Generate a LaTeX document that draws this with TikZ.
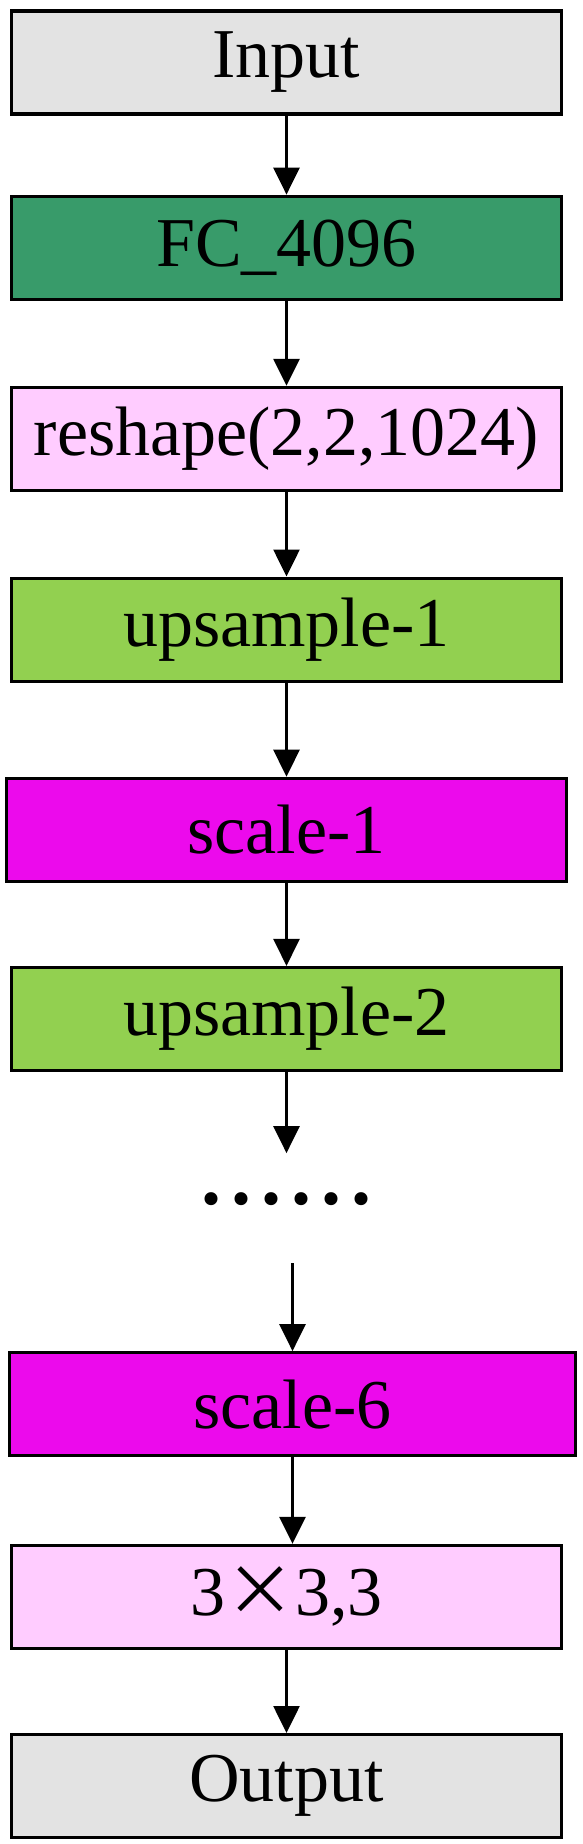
\documentclass[tikz,border=0pt]{standalone}
\usepackage{fontspec}
\setmainfont{Liberation Serif}
\newfontfamily\cjk{Noto Sans CJK SC}
\usetikzlibrary{arrows.meta,positioning}
\definecolor{iogray}{HTML}{E3E3E3}
\definecolor{fcgreen}{HTML}{389B6A}
\definecolor{shapepink}{HTML}{FFCCFF}
\definecolor{upgreen}{HTML}{92D050}
\definecolor{scalemagenta}{HTML}{EC0AEC}

\begin{document}
\begin{tikzpicture}[
  font=\fontsize{35}{40}\selectfont,
  box/.style={draw=black, line width=1.6pt, minimum width=275pt,
    minimum height=51.5pt, inner sep=0pt, align=center},
  flow/.style={-{Triangle[width=13pt,length=13.5pt]}, line width=1.3pt, draw=black},
]
  \useasboundingbox (0,0) rectangle (291.5pt,-922pt);
  \node[box, fill=iogray] (input) at (143.25pt,-31.25pt) {Input};
  \node[box, fill=fcgreen, below=39.5pt of input] (fc) {FC\_4096};
  \node[box, fill=shapepink, below=42.5pt of fc] (reshape) {reshape(2,2,1024)};
  \node[box, fill=upgreen, below=42.25pt of reshape] (upsample-1) {upsample-1};
  \node[box, fill=scalemagenta, minimum width=280pt, below=47pt of upsample-1]
    (scale-1) {scale-1};
  \node[box, fill=upgreen, below=41.5pt of scale-1] (upsample-2) {upsample-2};
  \coordinate[below=40.5pt of upsample-2] (gap-in);
  \node[inner sep=0pt, font=\fontsize{40}{44}\selectfont\bfseries,
    below=63.5pt of upsample-2, anchor=center]
    (dots) {.\hspace{5pt}.\hspace{5pt}.\hspace{5pt}.\hspace{5pt}.\hspace{5pt}.};
  \node[box, fill=scalemagenta, minimum width=283pt,
    below=139.5pt of upsample-2, xshift=3pt] (scale-6) {scale-6};
  \coordinate[above=44pt of scale-6] (gap-out);
  \node[box, fill=shapepink, below=43.25pt of scale-6, xshift=-3pt]
    (kernel) {3{\cjk ×}3,3};
  \node[box, fill=iogray, below=41.5pt of kernel] (output) {Output};
  \draw[flow] (input.south) -- (fc.north);
  \draw[flow] (fc.south) -- (reshape.north);
  \draw[flow] (reshape.south) -- (upsample-1.north);
  \draw[flow] (upsample-1.south) -- (scale-1.north);
  \draw[flow] (scale-1.south) -- (upsample-2.north);
  \draw[flow] (upsample-2.south) -- (gap-in);
  \draw[flow] (gap-out) -- (scale-6.north);
  \draw[flow] (scale-6.south) -- (scale-6.south |- kernel.north);
  \draw[flow] (kernel.south) -- (output.north);
\end{tikzpicture}
\end{document}
